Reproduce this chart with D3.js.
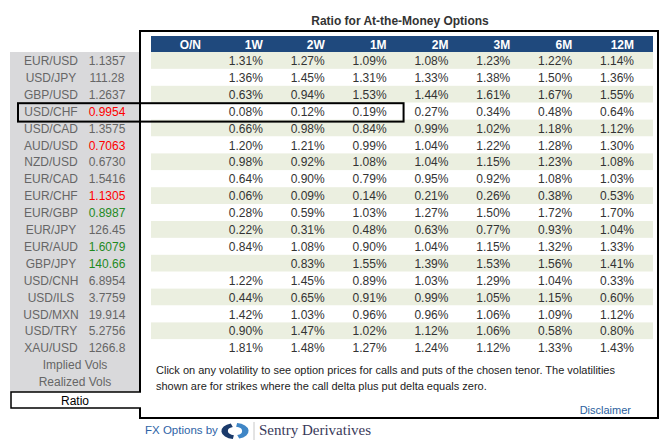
<!DOCTYPE html>
<html>
<head>
<meta charset="utf-8">
<script src="https://cdn.jsdelivr.net/npm/d3@7"></script>
<style>
    body { margin: 0; background: #fff; }
    svg { display: block; font-family: "Liberation Sans", Arial, sans-serif; }
</style>
</head>
<body>
<div id="chart"></div>
<script>
// tenors across the top
var tenors = ["O/N", "1W", "2W", "1M", "2M", "3M", "6M", "12M"];
var pairs = ["EUR/USD", "USD/JPY", "GBP/USD", "USD/CHF", "USD/CAD", "AUD/USD", "NZD/USD", "EUR/CAD", "EUR/CHF",
    "EUR/GBP", "EUR/JPY", "EUR/AUD", "GBP/JPY", "USD/CNH", "USD/ILS", "USD/MXN", "USD/TRY", "XAU/USD"];
var spots = ["1.1357", "111.28", "1.2637", "0.9954", "1.3575", "0.7063", "0.6730", "1.5416", "1.1305",
    "0.8987", "126.45", "1.6079", "140.66", "6.8954", "3.7759", "19.914", "5.2756", "1266.8"];
// -1 down (red), 1 up (green), 0 unchanged
var spotMove = [0, 0, 0, -1, 0, -1, 0, 0, -1, 1, 0, 1, 1, 0, 0, 0, 0, 0];

// ratio (%) per tenor, one value per pair
var ratioON = [null, null, null, null, null, null, null, null, null, null, null, null, null, null, null, null, null, null];
var ratio1W = [1.31, 1.36, 0.63, 0.08, 0.66, 1.20, 0.98, 0.64, 0.06, 0.28, 0.22, 0.84, null, 1.22, 0.44, 1.42, 0.90, 1.81];
var ratio2W = [1.27, 1.45, 0.94, 0.12, 0.98, 1.21, 0.92, 0.90, 0.09, 0.59, 0.31, 1.08, 0.83, 1.45, 0.65, 1.03, 1.47, 1.48];
var ratio1M = [1.09, 1.31, 1.53, 0.19, 0.84, 0.99, 1.08, 0.79, 0.14, 1.03, 0.48, 0.90, 1.55, 0.89, 0.91, 0.96, 1.02, 1.27];
var ratio2M = [1.08, 1.33, 1.44, 0.27, 0.99, 1.04, 1.04, 0.95, 0.21, 1.27, 0.63, 1.04, 1.39, 1.03, 0.99, 0.96, 1.12, 1.24];
var ratio3M = [1.23, 1.38, 1.61, 0.34, 1.02, 1.22, 1.15, 0.92, 0.26, 1.50, 0.77, 1.15, 1.53, 1.29, 1.05, 1.06, 1.06, 1.12];
var ratio6M = [1.22, 1.50, 1.67, 0.48, 1.18, 1.28, 1.23, 1.08, 0.38, 1.72, 0.93, 1.32, 1.56, 1.04, 1.15, 1.09, 0.58, 1.33];
var ratio12M = [1.14, 1.36, 1.55, 0.64, 1.12, 1.30, 1.08, 1.03, 0.53, 1.70, 1.04, 1.33, 1.41, 0.33, 0.60, 1.12, 0.80, 1.43];

var sideTabs = ["Implied Vols", "Realized Vols"];
var activeTab = "Ratio";
var selectedPair = "USD/CHF";
var selectedTenor = "1M";

var columns = [ratioON, ratio1W, ratio2W, ratio1M, ratio2M, ratio3M, ratio6M, ratio12M];
var rows = pairs.map(function (p, i) {
    return {
        pair: p,
        spot: spots[i],
        move: spotMove[i],
        values: columns.map(function (c) { return c[i]; })
    };
});

var W = 664, H = 444;
var svg = d3.select("#chart").append("svg")
    .attr("width", W)
    .attr("height", H);

var y = d3.scaleBand()
    .domain(d3.range(pairs.length + sideTabs.length))
    .range([52, 52 + 16.9 * (pairs.length + sideTabs.length)])
    .padding(0);
var x = d3.scalePoint()
    .domain(tenors)
    .range([201, 634]);
var fmt = d3.format(".2f");
var moveColor = function (m) { return m < 0 ? "#ff0000" : (m > 0 ? "#1f8a1f" : "#666666"); };

// title
svg.append("text")
    .attr("x", 400)
    .attr("y", 25)
    .attr("text-anchor", "middle")
    .attr("font-size", "12px")
    .attr("font-weight", "bold")
    .attr("fill", "#333333")
    .text("Ratio for At-the-Money Options");

// left panel
var tabTop = y(pairs.length + sideTabs.length - 1) + y.bandwidth() + 2;
svg.append("rect")
    .attr("x", 10)
    .attr("y", 52)
    .attr("width", 130)
    .attr("height", tabTop - 52)
    .attr("fill", "#d9d9db");

var side = svg.append("g").attr("class", "side");
side.selectAll(".pair")
    .data(rows)
    .enter()
    .append("text")
    .attr("class", "pair")
    .attr("x", 51)
    .attr("y", function (d, i) { return y(i) + 13; })
    .attr("text-anchor", "middle")
    .attr("font-size", "12px")
    .attr("fill", "#666666")
    .text(function (d) { return d.pair; });
side.selectAll(".spot")
    .data(rows)
    .enter()
    .append("text")
    .attr("class", "spot")
    .attr("x", 107)
    .attr("y", function (d, i) { return y(i) + 13; })
    .attr("text-anchor", "middle")
    .attr("font-size", "12px")
    .attr("fill", function (d) { return moveColor(d.move); })
    .text(function (d) { return d.spot; });
side.selectAll(".tab")
    .data(sideTabs)
    .enter()
    .append("text")
    .attr("class", "tab")
    .attr("x", 75)
    .attr("y", function (d, i) { return y(pairs.length + i) + 13; })
    .attr("text-anchor", "middle")
    .attr("font-size", "12px")
    .attr("fill", "#666666")
    .text(function (d) { return d; });

// active tab (open towards the main box)
var tabH = 16;
svg.append("rect")
    .attr("x", 11)
    .attr("y", tabTop)
    .attr("width", 131)
    .attr("height", tabH)
    .attr("fill", "#ffffff");
svg.append("path")
    .attr("d", "M141," + tabTop + "H11V" + (tabTop + tabH) + "H141")
    .attr("fill", "none")
    .attr("stroke", "#000")
    .attr("stroke-width", 1.5);
svg.append("text")
    .attr("x", 75)
    .attr("y", tabTop + 12.5)
    .attr("text-anchor", "middle")
    .attr("font-size", "12px")
    .attr("fill", "#000")
    .text(activeTab);

// main box
svg.append("path")
    .attr("d", "M140," + tabTop + "V31H658V418H140V" + (tabTop + tabH))
    .attr("fill", "none")
    .attr("stroke", "#000")
    .attr("stroke-width", 2);

// header
svg.append("rect")
    .attr("x", 151)
    .attr("y", 36)
    .attr("width", 502)
    .attr("height", 16)
    .attr("fill", "#1f497d");
svg.selectAll(".head")
    .data(tenors)
    .enter()
    .append("text")
    .attr("class", "head")
    .attr("x", function (d) { return x(d); })
    .attr("y", 49)
    .attr("text-anchor", "end")
    .attr("font-size", "12px")
    .attr("font-weight", "bold")
    .attr("fill", "#ffffff")
    .text(function (d) { return d; });

// rows
var body = svg.append("g").attr("class", "body");
var rowG = body.selectAll(".row")
    .data(rows)
    .enter()
    .append("g")
    .attr("class", "row")
    .attr("transform", function (d, i) { return "translate(0," + y(i) + ")"; });
rowG.append("rect")
    .attr("x", 151)
    .attr("y", 0)
    .attr("width", 502)
    .attr("height", y.bandwidth())
    .attr("fill", function (d, i) { return i % 2 == 0 ? "#ebefe0" : "#ffffff"; });
rowG.selectAll(".val")
    .data(function (d) { return d.values; })
    .enter()
    .append("text")
    .attr("class", "val")
    .attr("x", function (d, j) { return x(tenors[j]); })
    .attr("y", 13)
    .attr("text-anchor", "end")
    .attr("font-size", "12px")
    .attr("fill", "#333333")
    .text(function (d) { return d == null ? "" : fmt(d) + "%"; });

// hover box on the selected pair
var si = pairs.indexOf(selectedPair);
svg.append("rect")
    .attr("x", 18)
    .attr("y", y(si) + 0.5)
    .attr("width", x(selectedTenor) + 17 - 18)
    .attr("height", y.bandwidth() + 1.5)
    .attr("fill", "none")
    .attr("stroke", "#000")
    .attr("stroke-width", 2);

// note
var note = ["Click on any volatility to see option prices for calls and puts of the chosen tenor. The volatilities",
    "shown are for strikes where the call delta plus put delta equals zero."];
svg.selectAll(".note")
    .data(note)
    .enter()
    .append("text")
    .attr("class", "note")
    .attr("x", 156)
    .attr("y", function (d, i) { return 374 + i * 16; })
    .attr("font-size", "11px")
    .attr("fill", "#222222")
    .text(function (d) { return d; });
svg.append("text")
    .attr("x", 631)
    .attr("y", 414)
    .attr("text-anchor", "end")
    .attr("font-size", "11px")
    .attr("fill", "#2b5f9e")
    .text("Disclaimer");

// footer
svg.append("text")
    .attr("x", 145)
    .attr("y", 434)
    .attr("font-size", "11.5px")
    .attr("fill", "#2e63a6")
    .text("FX Options by");
var logo = svg.append("g").attr("transform", "translate(235,431) scale(1.7,1)");
var arc = d3.arc().innerRadius(4.2).outerRadius(8);
logo.append("path")
    .attr("d", arc({startAngle: Math.PI * 1.05, endAngle: Math.PI * 1.9}))
    .attr("fill", "#1b3a6b");
logo.append("path")
    .attr("d", arc({startAngle: Math.PI * 0.05, endAngle: Math.PI * 0.9}))
    .attr("fill", "#3f86c6");
svg.append("line")
    .attr("x1", 254).attr("x2", 254)
    .attr("y1", 422).attr("y2", 440)
    .attr("stroke", "#c8c8c8");
svg.append("text")
    .attr("x", 259)
    .attr("y", 435)
    .attr("font-family", "'Liberation Serif', 'DejaVu Serif', serif")
    .attr("font-size", "15px")
    .attr("fill", "#3a3a5a")
    .text("Sentry Derivatives");
</script>
</body>
</html>
